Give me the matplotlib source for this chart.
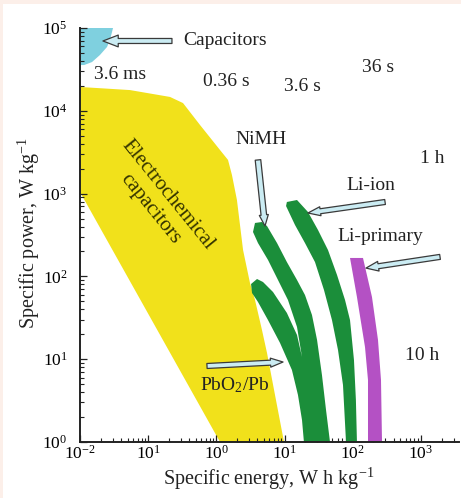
import matplotlib
matplotlib.use('Agg')
import matplotlib.pyplot as plt
from matplotlib.patches import FancyArrowPatch, Rectangle
from matplotlib.ticker import FixedLocator, FixedFormatter, LogLocator, NullFormatter

plt.rcParams['font.family'] = ['Liberation Serif', 'DejaVu Serif']
plt.rcParams['mathtext.fontset'] = 'custom'
plt.rcParams['mathtext.rm'] = 'Liberation Serif'
plt.rcParams['mathtext.it'] = 'Liberation Serif:italic'
plt.rcParams['mathtext.bf'] = 'Liberation Serif:bold'

# ---------------- data (specific energy Wh/kg, specific power W/kg) ----------------
capacitors_energy = [0.01, 0.0305, 0.0275, 0.0249, 0.0196, 0.0150, 0.0115, 0.01]
capacitors_power = [1e5, 1e5, 71600, 59000, 47200, 38800, 35700, 35700]

echem_energy = [0.01, 0.054, 0.209, 0.324, 0.575, 1.13, 1.48, 1.69, 2.0, 2.46,
                3.11, 3.68, 4.66, 5.52, 7.23, 9.8, 1.13, 0.01]
echem_power = [19400, 17800, 14700, 12400, 6740, 3360, 2550, 1680, 837, 208,
               83, 52, 22.5, 11.9, 3.7, 1.0, 1.0, 1046]

# NiMH + PbO2/Pb band (joined "V" shape)
nimh_pb_energy = [3.22, 3.94, 4.82, 6.76, 10.8, 15.2, 18.0,
                  15.2, 11.2, 8.00, 5.71, 4.07, 3.44, 3.68, 4.66, 5.52,
                  7.74, 10.8, 15.2, 19.9, 25.2, 29.9, 35.3, 40.5, 46.3,
                  19.2, 18.0, 15.7, 12.8, 8.57, 5.71, 4.07, 3.33]
nimh_pb_power = [80.9, 93.0, 85.6, 64.8, 36.2, 19.6, 10.6,
                 24.5, 51.9, 90.5, 158, 253, 344, 442, 454, 406,
                 253, 149, 90.5, 59.6, 34.2, 17.1, 6.44, 2.43, 1.0,
                 1.0, 1.84, 3.70, 7.41, 15.7, 29.7, 49.1, 63.0]

liion_energy = [10.8, 15.2, 22.0, 30.9, 43.3, 58.7, 76.9, 91.0, 104, 111, 115,
                79.5, 71.8, 60.7, 49.5, 37.8, 27.9, 19.9, 14.2, 10.5]
liion_power = [792, 837, 600, 363, 208, 104, 51.9, 29.7, 9.78, 3.22, 1.0,
               1.0, 4.88, 12.9, 29.7, 68.5, 149, 253, 418, 708]

liprim_energy = [91.0, 141, 191, 234, 259, 268, 167, 167, 151, 115]
liprim_power = [167, 167, 56.4, 17.1, 5.61, 1.0, 1.0, 5.61, 14.0, 56.4]

x_ticks = [1e-2, 1e-1, 1e0, 1e1, 1e2, 1e3]
x_tick_labels = ['$10^{-2}$', '$10^{1}$', '$10^{0}$', '$10^{1}$', '$10^{2}$', '$10^{3}$']
y_ticks = [1e0, 1e1, 1e2, 1e3, 1e4, 1e5]
y_tick_labels = ['$10^{0}$', '$10^{1}$', '$10^{2}$', '$10^{3}$', '$10^{4}$', '$10^{5}$']

label_texts = ['Capacitors', '3.6 ms', '0.36 s', '3.6 s', '36 s', 'NiMH', '1 h',
               'Li-ion', 'Li-primary', '10 h', 'PbO$_2$/Pb']

# ---------------- layout ----------------
W, H = 461, 498
fig = plt.figure(figsize=(W / 100, H / 100), dpi=100, facecolor='#fcefe9')
fig.patches.append(Rectangle((3 / W, 0), 1, (H - 4) / H, transform=fig.transFigure,
                             facecolor='white', edgecolor='none', zorder=-5))
ax = fig.add_axes([80 / W, 56 / H, 379 / W, 414 / H])
ax.set_facecolor('none')
ax.set_xscale('log')
ax.set_yscale('log')
ax.set_xlim(1e-2, 3606)
ax.set_ylim(1, 1e5)

ax.fill(echem_energy, echem_power, color='#f1e11b', lw=0, zorder=1)
ax.fill(capacitors_energy, capacitors_power, color='#7fd0df', lw=0, zorder=1)
ax.fill(nimh_pb_energy, nimh_pb_power, color='#1b8e3a', lw=0, zorder=2)
ax.fill(liion_energy, liion_power, color='#1b8e3a', lw=0, zorder=2)
ax.fill(liprim_energy, liprim_power, color='#b451c4', lw=0, zorder=2)

for s in ['top', 'right']:
    ax.spines[s].set_visible(False)
for s in ['left', 'bottom']:
    ax.spines[s].set_linewidth(1.4)
    ax.spines[s].set_color('#222222')

ax.xaxis.set_major_locator(FixedLocator(x_ticks))
ax.xaxis.set_major_formatter(FixedFormatter(x_tick_labels))
ax.yaxis.set_major_locator(FixedLocator(y_ticks))
ax.yaxis.set_major_formatter(FixedFormatter(y_tick_labels))
ax.xaxis.set_minor_locator(LogLocator(base=10, subs=range(2, 10), numticks=20))
ax.yaxis.set_minor_locator(LogLocator(base=10, subs=range(2, 10), numticks=20))
ax.xaxis.set_minor_formatter(NullFormatter())
ax.yaxis.set_minor_formatter(NullFormatter())
ax.tick_params(which='major', direction='in', length=5, width=0.9, color='#222222',
               labelsize=12.5)
ax.tick_params(which='minor', direction='in', length=3, width=0.8, color='#222222')
ax.tick_params(axis='x', which='major', pad=2)
ax.tick_params(axis='y', which='major', pad=9)

ax.set_xlabel('Specific energy, W h kg$^{-1}$', fontsize=14.5, color='#222222')
ax.set_ylabel('Specific power, W kg$^{-1}$', fontsize=14.5, color='#222222')
ax.xaxis.set_label_coords(0.499, -0.058)
ax.yaxis.set_label_coords(-0.135, 0.504)
ax.yaxis.label.set_va('center')

label_pos = [(0.324, 69700, 'left'), (0.0387, 27800, 'center'), (1.38, 22900, 'center'),
             (18.0, 19400, 'center'), (234, 33800, 'center'), (4.51, 4440, 'center'),
             (1450, 2690, 'center'), (185, 1270, 'center'), (251, 307, 'center'),
             (1035, 11.2, 'center'), (1.88, 4.88, 'center')]
for t, (x, y, ha) in zip(label_texts, label_pos):
    ax.text(x, y, t, ha=ha, va='center', fontsize=14, color='#222222', zorder=5)

ax.text(0.144, 792, 'Electrochemical\ncapacitors', rotation=-51, ha='center', va='center',
        multialignment='center', fontsize=15, color='#333300', zorder=5, linespacing=1.3)

arrows = [((0.223, 69700), (0.0217, 69700), 'simple,head_width=8.5,head_length=11,tail_width=3.6'),
          ((4.07, 2550), (5.16, 406), 'simple,head_width=6.5,head_length=8,tail_width=4'),
          ((297, 792), (22.0, 583), 'simple,head_width=6.5,head_length=9,tail_width=3.6'),
          ((1900, 172), (156, 126), 'simple,head_width=7,head_length=9,tail_width=3.6'),
          ((0.728, 8.28), (9.48, 9.25), 'simple,head_width=6.5,head_length=9,tail_width=3.6')]
for tail, head, style in arrows:
    ax.add_patch(FancyArrowPatch(tail, head, arrowstyle=style, mutation_scale=1,
                                 shrinkA=0, shrinkB=0, facecolor='#cbecf3',
                                 edgecolor='#3a3a3a', lw=0.9, zorder=6))

fig.savefig('out.png', dpi=100, facecolor=fig.get_facecolor())
